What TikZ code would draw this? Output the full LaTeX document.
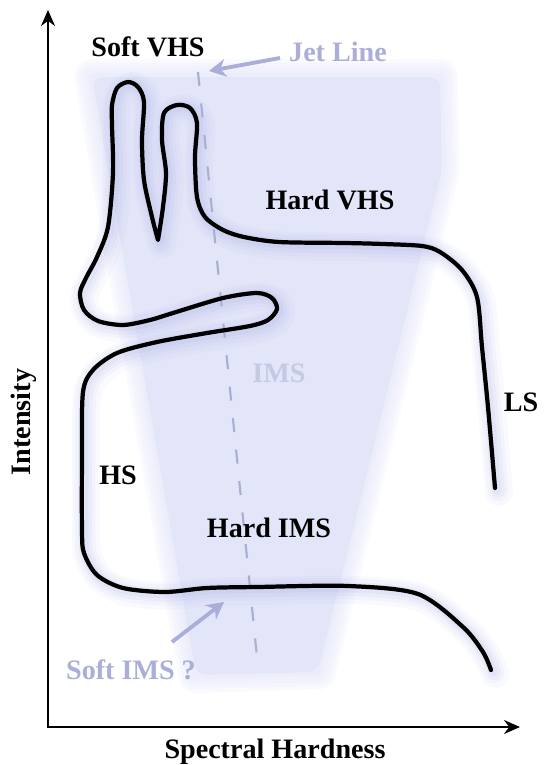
\documentclass[tikz,border=0pt]{standalone}
\usepackage{fontspec}
\setmainfont{Liberation Serif}
\usetikzlibrary{arrows.meta}
\definecolor{jetF}{RGB}{227,229,249}
\definecolor{jetG}{RGB}{176,181,232}
\definecolor{jetT}{RGB}{170,174,216}
\definecolor{jetD}{RGB}{170,174,207}
\definecolor{imsT}{RGB}{198,201,228}

\begin{document}
\begin{tikzpicture}[x=0.02cm,y=-0.02cm,>={Stealth[length=3.2mm,width=2.8mm]},
  lbl/.style={font=\fontsize{16}{18}\selectfont\bfseries,inner sep=0pt},
  faint/.style={lbl,text=jetT},
  pointer/.style={-{Stealth[length=3.4mm,width=3.6mm]},line width=2.2pt,jetT}]
\useasboundingbox (0,0) rectangle (545,765);
\foreach \w in {20,16,12,8,4}
  \draw[jetF,line width=\w pt,opacity=0.2,line join=round] (92,77)--(440,77)--(442,170)--(318,672)--(196,675)--cycle;
\fill[jetF,rounded corners=6] (92,77)--(440,77)--(442,170)--(318,672)--(196,675)--cycle;
\coordinate (jettop) at (198,72);
\coordinate (jetbot) at (258,667);
\draw[jetD,line width=1.2pt,dash pattern=on 8pt off 10pt] (jettop)--(jetbot);
\foreach \c/\w/\o/\s in {jetG/16/0.07/4,jetG/12/0.09/3,jetG/8/0.12/3,jetG/5/0.15/2,black/2.4/1/0}
  \draw[color=\c,line width=\w pt,opacity=\o,shift={(\s,\s)},line join=round,line cap=round]
    plot[smooth,tension=0.5] coordinates {(495,488) (488,407) (482,347) (477,297) (462,270) (440,252) (422,246) (383,244) (345,243) (279,242) (244,237) (223,230) (205,217) (197,197) (195,157) (197,123) (190,108) (177,105) (164,113) (162,140) (166,173) (163,207) (158,240)}
    -- plot[smooth,tension=0.5] coordinates {(158,240) (152,217) (144,180) (142,140) (144,102) (138,87) (128,82) (117,88) (112,105) (112,125) (113,173) (108,227) (97,257) (86,278) (80,293) (84,310) (98,321) (123,325) (150,320) (173,313) (223,298) (257,293) (272,298) (277,309) (268,320) (250,326) (207,333) (157,342) (117,353) (93,370) (83,392) (82,454) (82,530) (84,553) (97,575) (123,588) (165,592) (207,588) (257,587) (348,586) (418,594) (463,627) (483,652) (491,670)};
\coordinate (origin) at (48,727);
\coordinate (ytip) at (48,10);
\coordinate (xtip) at (520,727);
\draw[<->,line width=1.2pt] (ytip)--(origin)--(xtip);
\node[lbl] (softvhs) at (148,47) {Soft VHS};
\node[faint] (jetlbl) at (338,52) {Jet Line};
\node[lbl] (hardvhs) at (330,200) {Hard VHS};
\node[lbl,text=imsT] (ims) at (279,373) {IMS};
\node[lbl] (ls) at (521,402) {LS};
\node[lbl] (hs) at (118,475) {HS};
\node[lbl] (hardims) at (269,528) {Hard IMS};
\node[faint] (softims) at (131,670) {Soft IMS ?};
\node[lbl] (xlbl) at (275,752) {Spectral Hardness};
\node[lbl,rotate=90] (ylbl) at (24,422) {Intensity};
\coordinate (jettail) at (280,58);
\coordinate (jethead) at (209,71);
\draw[pointer] (jettail)--(jethead);
\coordinate (imstail) at (172,642);
\coordinate (imshead) at (224,602);
\draw[pointer] (imstail)--(imshead);
\end{tikzpicture}
\end{document}
